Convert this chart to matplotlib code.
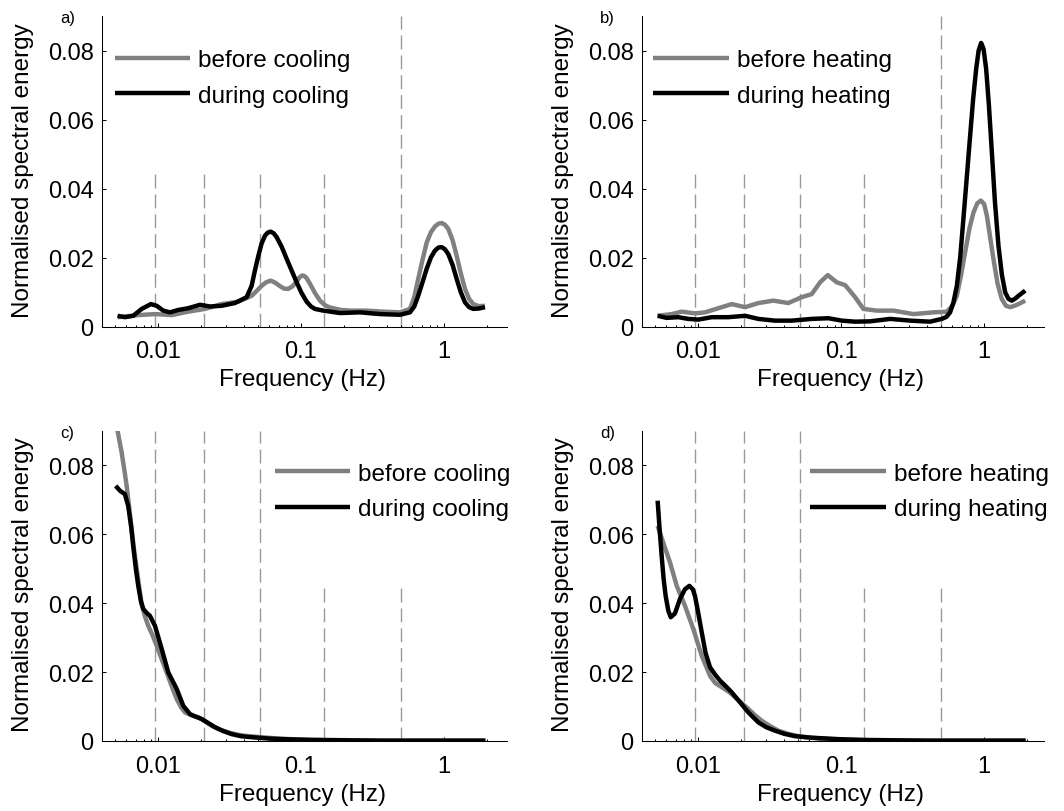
import matplotlib
matplotlib.use('Agg')
import matplotlib.pyplot as plt

plt.rcParams['font.family'] = ['Liberation Sans', 'DejaVu Sans']
plt.rcParams['lines.scale_dashes'] = False

# frequency band boundaries (Hz) and how high each dashed line goes per row
bands = [0.0095, 0.021, 0.052, 0.145, 0.5]
band_tops_top = [0.045, 0.045, 0.045, 0.045, 0.09]
band_tops_bottom = [0.09, 0.09, 0.09, 0.045, 0.045]

# a) cooling
a_before_f = [0.00522, 0.00728, 0.00953, 0.01247, 0.01629, 0.02133, 0.02786, 0.03648, 0.04519, 0.049,
              0.05309, 0.057, 0.06138, 0.066, 0.07129, 0.076, 0.08147, 0.087, 0.09333, 0.098, 0.1021,
              0.106, 0.1096, 0.1156, 0.1253, 0.1358, 0.147, 0.1596, 0.19, 0.2203, 0.2877, 0.3767,
              0.4920, 0.5781, 0.62, 0.6607, 0.71, 0.7568, 0.81, 0.8650, 0.915, 0.9638, 1.015, 1.072,
              1.15, 1.227, 1.31, 1.403, 1.50, 1.603, 1.75, 1.936]
a_before_v = [0.0027, 0.0033, 0.0036, 0.0033, 0.0043, 0.0051, 0.0065, 0.0072, 0.0089, 0.0103,
              0.0118, 0.0128, 0.0133, 0.0127, 0.0117, 0.0110, 0.0109, 0.0116, 0.0130, 0.0143, 0.0148,
              0.0146, 0.0140, 0.0124, 0.0097, 0.0075, 0.0062, 0.0055, 0.0048, 0.0046, 0.0046, 0.0043,
              0.0041, 0.0051, 0.0085, 0.0138, 0.0195, 0.0243, 0.0273, 0.0290, 0.0298, 0.0300, 0.0295, 0.0283,
              0.0250, 0.0205, 0.0155, 0.0109, 0.0080, 0.0065, 0.0059, 0.0060]
a_during_f = [0.00522, 0.00587, 0.00671, 0.00769, 0.00893, 0.00979, 0.01089, 0.01213, 0.01387, 0.01629,
              0.01968, 0.02312, 0.02786, 0.03451, 0.04169, 0.04519, 0.0475, 0.05035, 0.0530, 0.05598,
              0.0585, 0.06138, 0.0645, 0.06761, 0.0735, 0.07943, 0.0865, 0.09333, 0.1010, 0.1096, 0.1175,
              0.1253, 0.1432, 0.1875, 0.2588, 0.3565, 0.4920, 0.5781, 0.62, 0.6607, 0.71, 0.7568, 0.81,
              0.8650, 0.915, 0.9638, 1.015, 1.072, 1.15, 1.227, 1.31, 1.403, 1.50, 1.603, 1.75, 1.936]
a_during_v = [0.0031, 0.0027, 0.0031, 0.0051, 0.0065, 0.0060, 0.0046, 0.0041, 0.0048, 0.0053,
              0.0063, 0.0058, 0.0060, 0.0068, 0.0085, 0.0118, 0.0160, 0.0205, 0.0240, 0.0263,
              0.0272, 0.0275, 0.0270, 0.0259, 0.0230, 0.0196, 0.0160, 0.0128, 0.0097, 0.0072, 0.0058,
              0.0051, 0.0046, 0.0039, 0.0041, 0.0036, 0.0034, 0.0041, 0.0058, 0.0089, 0.0130, 0.0167, 0.0200,
              0.0220, 0.0229, 0.0230, 0.0224, 0.0210, 0.0178, 0.0138, 0.0100, 0.0070, 0.0056, 0.0051, 0.0052, 0.0056]

# b) heating
b_before_f = [0.00522, 0.00655, 0.00769, 0.00953, 0.01119, 0.01387, 0.01722, 0.02133, 0.02642, 0.03365,
              0.04276, 0.05309, 0.06237, 0.07129, 0.08072, 0.09333, 0.1067, 0.1253, 0.1432, 0.1778,
              0.2323, 0.3206, 0.4426, 0.5483, 0.60, 0.6442, 0.69, 0.7362, 0.79, 0.8414, 0.895, 0.9484,
              1.00, 1.045, 1.10, 1.161, 1.24, 1.327, 1.42, 1.521, 1.63, 1.738, 1.936]
b_before_v = [0.0031, 0.0036, 0.0043, 0.0038, 0.0041, 0.0053, 0.0065, 0.0056, 0.0068, 0.0075,
              0.0068, 0.0085, 0.0094, 0.0128, 0.0149, 0.0128, 0.0120, 0.0085, 0.0051, 0.0046,
              0.0046, 0.0036, 0.0041, 0.0043, 0.0060, 0.0089, 0.0150, 0.0215, 0.0285, 0.0330, 0.0357, 0.0365,
              0.0355, 0.0321, 0.0260, 0.0196, 0.0125, 0.0080, 0.0060, 0.0056, 0.0060, 0.0065, 0.0075]
b_during_f = [0.00522, 0.00604, 0.00728, 0.00855, 0.01005, 0.01247, 0.01629, 0.02133, 0.02642, 0.03451,
              0.04519, 0.06237, 0.08147, 0.1012, 0.1253, 0.1596, 0.2203, 0.3041, 0.4188, 0.5058,
              0.545, 0.5781, 0.61, 0.6442, 0.68, 0.7161, 0.757, 0.7980, 0.838, 0.8790, 0.915, 0.9528,
              0.99, 1.033, 1.08, 1.132, 1.19, 1.259, 1.33, 1.403, 1.48, 1.560, 1.65, 1.738, 1.936]
b_during_v = [0.0031, 0.0025, 0.0027, 0.0022, 0.0020, 0.0027, 0.0027, 0.0031, 0.0022, 0.0017,
              0.0017, 0.0022, 0.0024, 0.0017, 0.0014, 0.0015, 0.0022, 0.0017, 0.0014, 0.0022,
              0.0028, 0.0041, 0.0070, 0.0118, 0.0200, 0.0312, 0.0435, 0.0553, 0.0660, 0.0746, 0.0800, 0.0822,
              0.0805, 0.0746, 0.0640, 0.0505, 0.0360, 0.0234, 0.0150, 0.0099, 0.0080, 0.0075, 0.0081, 0.0089, 0.0104]

# c) cooling, low-frequency view
c_before_f = [0.00500, 0.00522, 0.00557, 0.0058, 0.00604, 0.0063, 0.00655, 0.0068, 0.0071, 0.0074,
              0.00769, 0.0081, 0.00855, 0.0092, 0.00979, 0.0106, 0.01151, 0.0125, 0.01352, 0.0145,
              0.01545, 0.0172, 0.01914, 0.0215, 0.02377, 0.0272, 0.03105, 0.0355, 0.04055, 0.05309,
              0.07, 0.10, 0.15, 0.25, 0.4, 0.7, 1.0, 1.5, 1.95]
c_before_v = [0.0945, 0.0899, 0.0837, 0.0790, 0.0740, 0.0675, 0.0614, 0.0555, 0.0499, 0.0445,
              0.0397, 0.0362, 0.0334, 0.0305, 0.0276, 0.0238, 0.0199, 0.0158, 0.0122, 0.0098,
              0.0083, 0.0074, 0.0069, 0.0056, 0.0044, 0.0033, 0.0025, 0.0019, 0.0015, 0.0011,
              0.0007, 0.0004, 0.0003, 0.0002, 0.0001, 0.0001, 0.0001, 0.0001, 0.0001]
c_during_f = [0.00506, 0.00542, 0.00587, 0.00619, 0.0065, 0.00671, 0.0070, 0.00728, 0.0076, 0.00789,
              0.0084, 0.00879, 0.00953, 0.01062, 0.0118, 0.01352, 0.01503, 0.01675, 0.0185, 0.02018,
              0.0225, 0.02506, 0.0285, 0.03273, 0.038, 0.04519, 0.06, 0.08, 0.12, 0.2, 0.35, 0.6,
              1.0, 1.5, 1.95]
c_during_v = [0.0740, 0.0726, 0.0716, 0.0682, 0.0620, 0.0566, 0.0500, 0.0450, 0.0405, 0.0383,
              0.0370, 0.0363, 0.0334, 0.0267, 0.0199, 0.0151, 0.0102, 0.0078, 0.0070, 0.0064,
              0.0052, 0.0040, 0.0029, 0.0020, 0.0014, 0.0011, 0.0007, 0.0005, 0.0003, 0.0002, 0.0001, 0.0001,
              0.0001, 0.0001, 0.0001]

# d) heating, low-frequency view
d_before_f = [0.00522, 0.00571, 0.00637, 0.00710, 0.00811, 0.00927, 0.01062, 0.01213, 0.0132, 0.01466,
              0.0165, 0.01816, 0.0202, 0.02249, 0.0250, 0.02786, 0.0320, 0.03648, 0.0425, 0.05035,
              0.07, 0.1, 0.15, 0.25, 0.4, 0.7, 1.0, 1.5, 1.95]
d_before_v = [0.0624, 0.0576, 0.0518, 0.0450, 0.0392, 0.0325, 0.0247, 0.0189, 0.0168, 0.0156,
              0.0142, 0.0127, 0.0110, 0.0093, 0.0075, 0.0059, 0.0043, 0.0030, 0.0021, 0.0014,
              0.0007, 0.0004, 0.0002, 0.0001, 0.0001, 0.0001, 0.0001, 0.0001, 0.0001]
d_during_f = [0.00522, 0.0054, 0.00557, 0.00575, 0.00594, 0.0062, 0.00645, 0.0069, 0.00748, 0.0081,
              0.00870, 0.0092, 0.00953, 0.0100, 0.01062, 0.0113, 0.01213, 0.0132, 0.01426, 0.0158,
              0.01722, 0.01968, 0.02249, 0.02642, 0.0300, 0.03451, 0.0400, 0.04764, 0.0600, 0.07328,
              0.1, 0.15, 0.25, 0.4, 0.7, 1.0, 1.5, 1.95]
d_during_v = [0.0697, 0.0610, 0.0537, 0.0470, 0.0421, 0.0378, 0.0359, 0.0370, 0.0412, 0.0440,
              0.0450, 0.0440, 0.0420, 0.0375, 0.0315, 0.0255, 0.0214, 0.0192, 0.0175, 0.0157,
              0.0141, 0.0112, 0.0083, 0.0054, 0.0040, 0.0030, 0.0021, 0.0014, 0.0010, 0.0008,
              0.0005, 0.0003, 0.0002, 0.0001, 0.0001, 0.0001, 0.0001, 0.0001]

panels = [
    ('a)', a_before_f, a_before_v, a_during_f, a_during_v, 'cooling', band_tops_top),
    ('b)', b_before_f, b_before_v, b_during_f, b_during_v, 'heating', band_tops_top),
    ('c)', c_before_f, c_before_v, c_during_f, c_during_v, 'cooling', band_tops_bottom),
    ('d)', d_before_f, d_before_v, d_during_f, d_during_v, 'heating', band_tops_bottom),
]

W, H = 1064, 812
fig = plt.figure(figsize=(W / 100, H / 100), dpi=100)

# pixel boxes: left, right, top, bottom
boxes = [(102, 507, 17, 327.5), (642, 1044, 17, 327.5),
         (102, 507, 431.7, 742), (642, 1044, 431.7, 742)]
legend_pos = [(0.032, 0.893), (0.028, 0.893), (0.427, 0.897), (0.419, 0.897)]
grey = '#808080'

for i, (tag, bf, bv, df, dv, word, tops) in enumerate(panels):
    l, r, t, b = boxes[i]
    ax = fig.add_axes([l / W, 1 - b / H, (r - l) / W, (b - t) / H])
    for f, top in zip(bands, tops):
        ax.plot([f, f], [0, top], color='#999999', lw=1.0, dashes=(10, 4.3), zorder=1)
    ax.plot(bf, bv, color=grey, lw=3.2, solid_capstyle='butt', solid_joinstyle='round',
            label='before ' + word, zorder=2)
    ax.plot(df, dv, color='black', lw=3.2, solid_capstyle='butt', solid_joinstyle='round',
            label='during ' + word, zorder=3)
    ax.set_xscale('log')
    ax.set_xlim(0.00406, 2.76 if r == 507 else 2.62)
    ax.set_ylim(0, 0.09)
    ax.set_xticks([0.01, 0.1, 1])
    ax.set_xticklabels(['0.01', '0.1', '1'])
    ax.set_yticks([0, 0.02, 0.04, 0.06, 0.08])
    ax.set_yticklabels(['0', '0.02', '0.04', '0.06', '0.08'])
    ax.tick_params(which='major', direction='in', length=3, width=0.75, labelsize=17)
    ax.tick_params(axis='x', which='major', pad=10)
    ax.tick_params(axis='y', which='major', pad=6)
    ax.tick_params(which='minor', direction='in', length=1.8, width=0.75)
    ax.tick_params(axis='y', which='minor', left=False)
    for s in ['top', 'right']:
        ax.spines[s].set_visible(False)
    for s in ['left', 'bottom']:
        ax.spines[s].set_linewidth(0.75)
    ax.set_xlabel('Frequency (Hz)', fontsize=17.5)
    ax.set_ylabel('Normalised spectral energy', fontsize=17.5)
    ax.xaxis.set_label_coords(0.495, -0.135)
    ax.yaxis.set_label_coords(-0.168, 0.506)
    ax.legend(loc='upper left', bbox_to_anchor=legend_pos[i], frameon=False, fontsize=17.5,
              borderpad=0, borderaxespad=0, handlelength=3.1, handletextpad=0.33,
              labelspacing=0.55)
    fig.text((l - 34.5) / W, 1 - (t + 2) / H, tag, ha='center', va='center', fontsize=12)

fig.savefig('out.png', dpi=100)
